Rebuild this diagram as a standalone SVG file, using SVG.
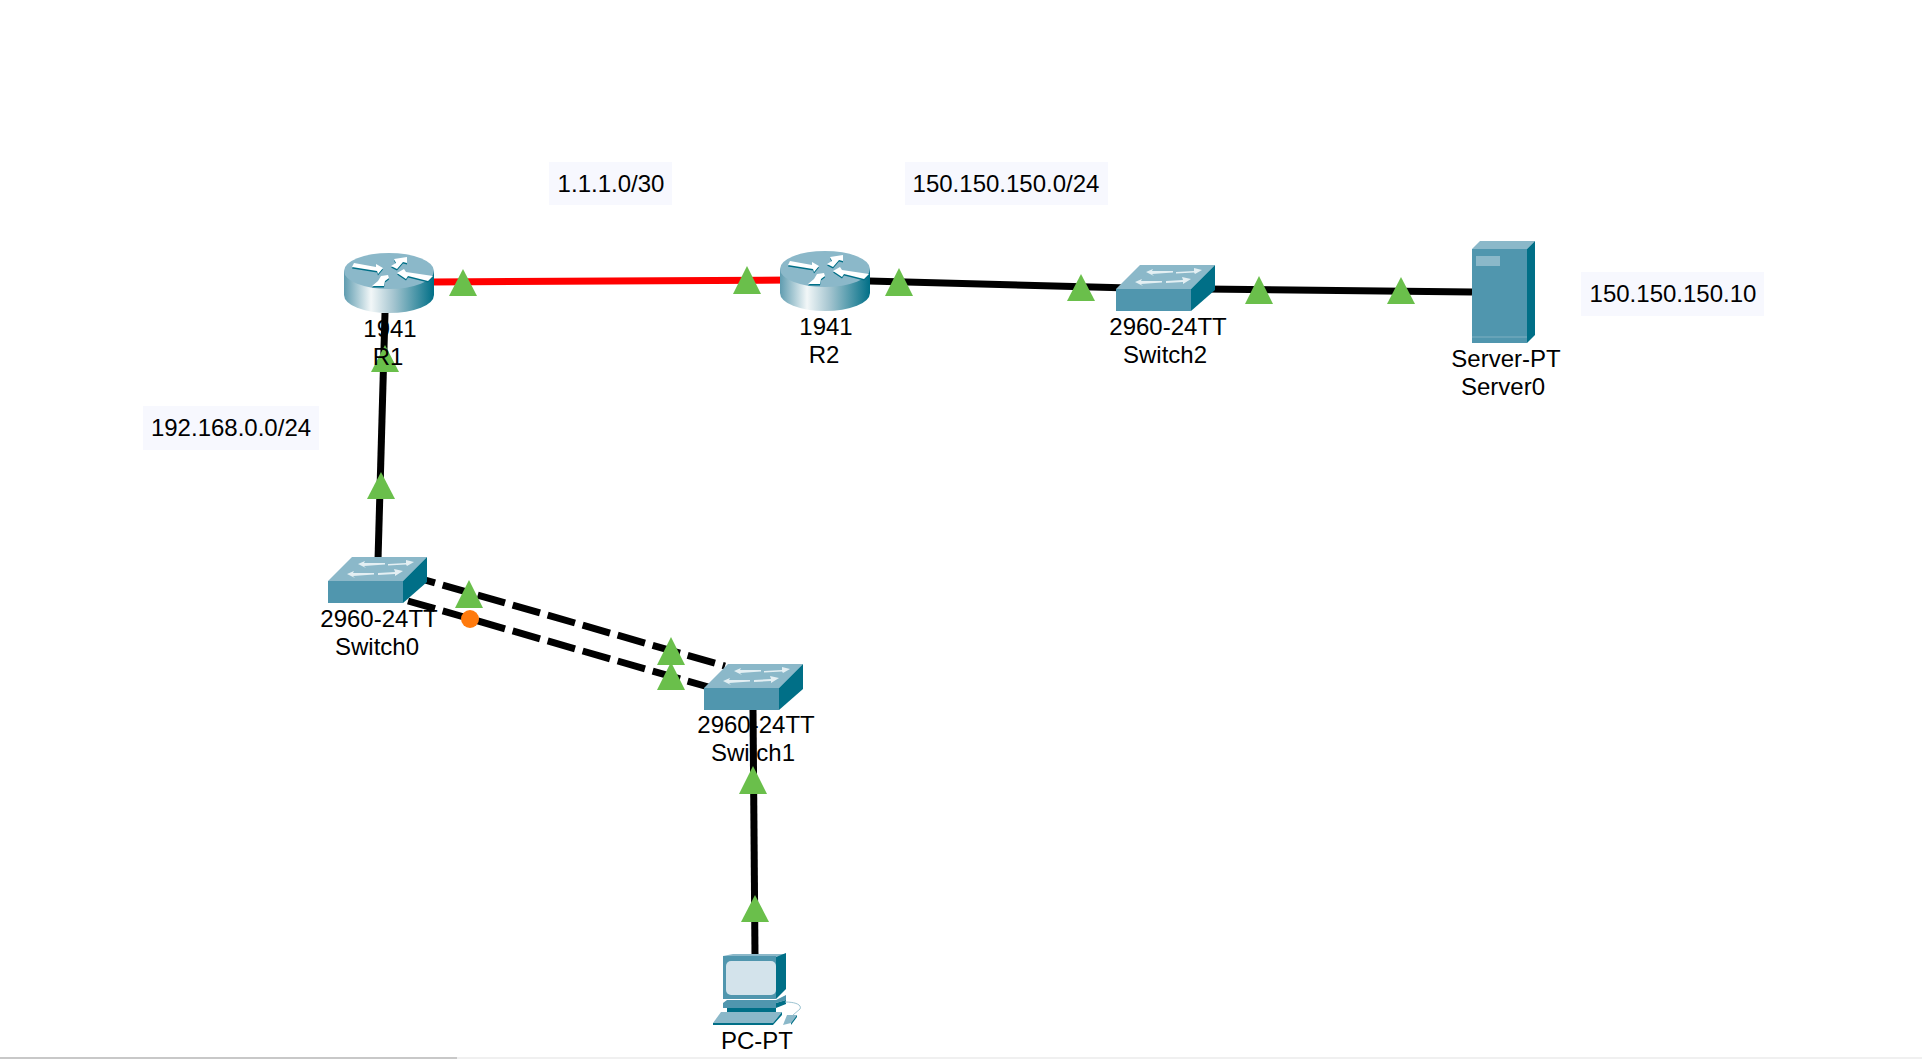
<svg xmlns="http://www.w3.org/2000/svg" width="1922" height="1059" viewBox="0 0 1922 1059">
<style>
text{font-family:"Liberation Sans",Arial,sans-serif;font-size:24px;fill:#000;text-anchor:middle}
.lb{fill:#f7f8fe}
.c{stroke:#000;stroke-width:7;fill:none}
.d{stroke-dasharray:28.4 8}
.t{fill:#6abf4b}
.top{fill:#8bb8c9}
.front{fill:#5096ae}
.side{fill:#006f87}
.arr{fill:#fff}
.sa{fill:#e4eff3}
</style>
<defs>
<linearGradient id="rg" x1="0" x2="1" y1="0" y2="0">
<stop offset="0" stop-color="#5f9cb0"/><stop offset=".3" stop-color="#f2f7f8"/><stop offset=".55" stop-color="#a5c5d0"/><stop offset="1" stop-color="#006f87"/>
</linearGradient>
<path id="ra" d="M8 14L10 10 32 14V11L39 15 34 21 33 18ZM47 13L52 10 50 6 63 4V10L59 9 53 16ZM53 20L60 16 62 19 89 23 84 28 64 23 62 26ZM28 33L34 28 37 23 44 22 45 25 41 28 40 33Z"/>
<g id="router">
<path d="M0 18V42A45 18 0 0 0 90 42V18Z" fill="url(#rg)"/>
<ellipse cx="45" cy="18" rx="45" ry="18" class="top"/>
<use href="#ra" x="0" y="1.5" class="side"/>
<use href="#ra" class="arr"/>
</g>
<g id="switch">
<path class="top" d="M0 24L24 0H99L75 24Z"/>
<path class="front" d="M0 24H75V46H0Z"/>
<path class="side" d="M75 24L99 0V25L75 46Z"/>
<path class="sa" d="M30 7L37 4 36 6 57 6V7.5L36 9 38 11ZM60 7L78 6 78 3 86 5 79 9 78 7.5 60 8.5ZM19 17L26 14 25 16 46 16V17.5L25 19 27 21ZM50 16L67 15 66 12 75 14 67 19 67 17 50 18Z"/>
</g>
</defs>
<rect width="1922" height="1059" fill="#fff"/>
<g id="connectors">
<path class="c" d="M385 313L378 560"/>
<path d="M433 282L790 280" stroke="#f00" stroke-width="7" fill="none"/>
<path class="c" d="M869 281L1130 288"/>
<path class="c" d="M1205 289L1472 292"/>
<path class="c d" stroke-dashoffset="10.7" d="M418 578L725 666"/>
<path class="c d" stroke-dashoffset="0.3" d="M408 601L712 688"/>
<path class="c" d="M753 709L755 955"/>
</g>
<g id="status">
<path class="t" d="M463 269L477 296H449Z"/>
<path class="t" d="M747 266L761 294H733Z"/>
<path class="t" d="M899 268L913 296H885Z"/>
<path class="t" d="M1081 274L1095 301H1067Z"/>
<path class="t" d="M1259 276L1273 304H1245Z"/>
<path class="t" d="M1401 277L1415 304H1387Z"/>
<path class="t" d="M385 345L399 372H371Z"/>
<path class="t" d="M381 472L395 499H367Z"/>
<path class="t" d="M469 580L483 608H455Z"/>
<path class="t" d="M671 637L685 665H657Z"/>
<path class="t" d="M671 662L685 690H657Z"/>
<path class="t" d="M753 766L767 794H739Z"/>
<path class="t" d="M755 895L769 922H741Z"/>
<circle cx="470" cy="619" r="9" fill="#ff7a0d"/>
</g>
<g id="R1"><use href="#router" x="344" y="253"/><text x="390" y="337">1941</text><text x="388" y="365">R1</text></g>
<g id="R2"><use href="#router" x="780" y="251"/><text x="826" y="335">1941</text><text x="824" y="363">R2</text></g>
<g id="Switch0"><use href="#switch" x="328" y="557"/><text x="379" y="627">2960-24TT</text><text x="377" y="655">Switch0</text></g>
<g id="Switch1"><use href="#switch" x="704" y="664"/><text x="756" y="733">2960-24TT</text><text x="753" y="761">Switch1</text></g>
<g id="Switch2"><use href="#switch" x="1116" y="265"/><text x="1168" y="335">2960-24TT</text><text x="1165" y="363">Switch2</text></g>
<g id="Server0">
<path class="top" d="M1472 249L1480 241H1535L1527 249Z"/>
<rect class="front" x="1472" y="249" width="55" height="94"/>
<path class="side" d="M1527 249L1535 241V335L1527 343Z"/>
<rect x="1476" y="256" width="24" height="10" fill="#8bb8c9"/>
<path d="M1472 337H1527" stroke="#7fb0c2" stroke-width="1"/>
<text x="1506" y="367">Server-PT</text><text x="1503" y="395">Server0</text>
</g>
<g id="PC">
<path class="top" d="M723 956L733 954H786L776 957Z"/>
<path class="front" d="M723 956H776V999H723Z"/>
<path class="side" d="M776 957L786 953V989L776 999Z"/>
<rect x="726" y="961" width="50" height="34" rx="5" fill="#d3e3eb"/>
<path class="front" d="M727 1000H776L786 995V1000L776 1003H723Z"/>
<path class="front" d="M723 1003H776V1008H723Z"/>
<path class="side" d="M776 1003L786 1000V1004L776 1008ZM727 1008H776V1012H727Z"/>
<path class="top" d="M721 1012H782L773 1023H713Z"/>
<path class="side" d="M713 1023H773L782 1012V1015L773 1025H713Z"/>
<path class="top" d="M787 1015H797L791 1023 783 1025Z"/>
<path class="side" d="M791 1023L797 1015V1017L791 1025Z"/>
<path d="M785 1002C796 1002 802 1005 800 1009L793 1015" stroke="#9cc3d1" stroke-width="1" fill="none"/>
<text x="757" y="1049">PC-PT</text>
</g>
<g id="labels">
<rect class="lb" x="549" y="162" width="123" height="43"/><text x="611" y="192">1.1.1.0/30</text>
<rect class="lb" x="905" y="162" width="203" height="43"/><text x="1006" y="192">150.150.150.0/24</text>
<rect class="lb" x="1581" y="272" width="183" height="44"/><text x="1673" y="302">150.150.150.10</text>
<rect class="lb" x="143" y="406" width="176" height="44"/><text x="231" y="436">192.168.0.0/24</text>
</g>
<rect x="0" y="1057" width="1922" height="2" fill="#f0f0f0"/>
<rect x="0" y="1057" width="457" height="2" fill="#c8c8c8"/>
</svg>
